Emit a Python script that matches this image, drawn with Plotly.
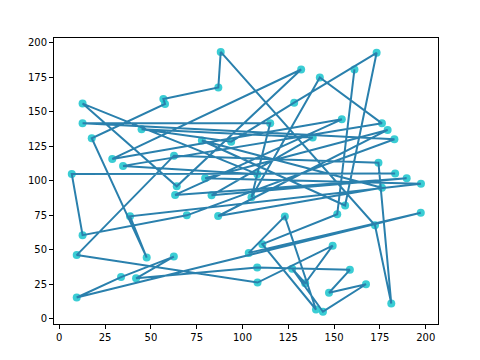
import plotly.graph_objects as go

# point coordinates (x, y), indexed P1..P64
px = [88.1, 86.8, 56.8, 57.7, 12.7, 12.7, 44.9, 17.7, 132.0, 142.2,
      173.2, 161.1, 128.2, 154.2, 176.1, 179.2, 115.1, 28.9, 34.8, 6.8,
      62.6, 64.1, 63.2, 77.8, 93.8, 108.1, 79.6, 83.1, 104.9, 69.6,
      86.7, 123.1, 138.3, 182.9, 174.2, 183.3, 189.6, 197.4, 176.1, 156.0,
      151.7, 197.3, 12.7, 9.5, 38.6, 47.7, 33.7, 41.9, 9.5, 62.5,
      103.4, 110.8, 108.0, 127.1, 108.2, 172.3, 149.2, 134.2, 158.6, 147.2,
      167.4, 181.2, 140.1, 143.9]
py = [193.2, 167.5, 159.1, 155.5, 155.8, 141.5, 137.3, 130.7, 180.5, 174.7,
      192.6, 180.5, 156.5, 144.4, 141.5, 136.7, 141.5, 115.7, 110.7, 104.8,
      118.1, 95.9, 89.7, 129.1, 128.2, 104.7, 101.8, 89.4, 87.9, 74.9,
      74.4, 74.1, 131.3, 130.0, 112.9, 105.1, 101.8, 97.7, 94.8, 82.0,
      75.7, 76.8, 60.5, 46.1, 74.2, 44.3, 30.2, 29.3, 15.4, 45.0,
      47.7, 54.0, 37.2, 36.2, 26.2, 67.7, 52.9, 25.7, 35.4, 18.8,
      25.0, 11.0, 6.7, 5.1]

# drawing order of the points (1-based)
order = [36, 20, 43, 30, 34, 6, 17, 29, 10, 15, 19, 26, 5, 22, 9, 18, 14, 23, 37, 28,
         33, 7, 25, 13, 11, 40, 24, 39, 31, 16, 27, 38, 45, 46, 8, 4, 3, 2, 1, 56,
         62, 35, 21, 44, 55, 57, 58, 54, 64, 61, 60, 59, 53, 48, 50, 47, 49, 42, 51, 32,
         63, 52, 41, 12]

xs = [px[i - 1] for i in order]
ys = [py[i - 1] for i in order]

fig = go.Figure()
fig.add_trace(go.Scatter(x=xs, y=ys, mode="markers",
                         marker=dict(size=8, color="#17c4cc", opacity=0.85),
                         hoverinfo="skip"))
fig.add_trace(go.Scatter(x=xs, y=ys, mode="lines",
                         line=dict(color="#2a80ad", width=2)))

axis_common = dict(showgrid=False, zeroline=False, showline=True, mirror=True,
                   linecolor="black", linewidth=1, ticks="outside", ticklen=4,
                   tickcolor="black", tickfont=dict(size=10, color="black"),
                   tickmode="array", tickvals=list(range(0, 201, 25)))

fig.update_layout(
    width=480, height=360,
    margin=dict(l=46, r=50, t=30, b=44),
    paper_bgcolor="white", plot_bgcolor="white",
    showlegend=False,
    font=dict(family="DejaVu Sans", size=10, color="black"),
    xaxis=dict(range=[-2.9, 206.7], **axis_common),
    yaxis=dict(range=[-3.8, 203.3], **axis_common),
)

fig.write_html("out.html")
